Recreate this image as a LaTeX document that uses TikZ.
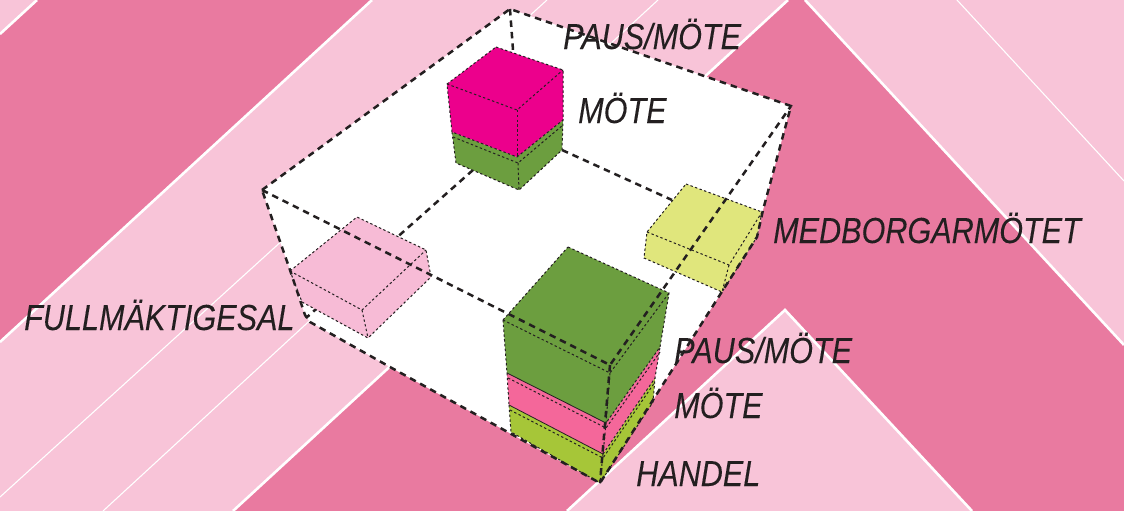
\documentclass[tikz,border=0pt]{standalone}
\usepackage{fontspec}
\setmainfont{Liberation Sans}
\newfontfamily\labelfont[ItalicFont=Liberation Sans Italic,ItalicFeatures={FakeStretch=0.845,FakeBold=0.05}]{Liberation Sans}
\definecolor{lightbg}{HTML}{F8C4D8}
\definecolor{darkbg}{HTML}{E97AA0}
\definecolor{inktext}{HTML}{231F20}
\definecolor{magentabox}{HTML}{EC008C}
\definecolor{greenbox}{HTML}{6C9E3F}
\definecolor{rosebox}{HTML}{F4679A}
\definecolor{limebox}{HTML}{A6C638}
\definecolor{yellowbox}{HTML}{E0E67C}
\definecolor{palebox}{HTML}{F7BBD6}
\tikzset{
  thickline/.style={draw=white,line width=2.6pt},
  thinline/.style={draw=white,line width=1.1pt},
  bigdash/.style={draw=inktext,line width=2.5pt,dash pattern=on 6.5pt off 5pt},
  finedash/.style={draw=inktext,line width=1pt,dash pattern=on 2.4pt off 2.4pt},
  tag/.style={inner sep=0pt,anchor=base west,text=inktext,font=\labelfont\itshape\fontsize{36.2}{36.2}\selectfont}
}
\begin{document}
\begin{tikzpicture}[x=1pt,y=-1pt]
\useasboundingbox (0,0) rectangle (1124,511);
\begin{scope}
\clip (0,0) rectangle (1124,511);
\fill[lightbg] (0,0) rectangle (1124,511);
% dark bands
\fill[darkbg] (37,0) -- (372,0) -- (0,342) -- (0,34) -- cycle;
\fill[darkbg] (233,511) -- (788,0) -- (805,0) -- (1124,345) -- (1124,511) -- (972,511) -- (785,310) -- (567,511) -- cycle;
% white strokes
\draw[thickline] (0,34) -- (37,0);
\draw[thickline] (372,0) -- (0,342);
\draw[thickline] (233,511) -- (788,0);
\draw[thickline] (805,0) -- (1124,345);
\draw[thickline] (567,511) -- (785,310) -- (972,511);
\draw[thinline] (547,0) -- (0,497);
\draw[thinline] (658,0) -- (103,511);
\draw[thinline] (957,0) -- (1124,181);
\end{scope}
% corners of the room
\coordinate (back) at (510,9);
\coordinate (right) at (791,106);
\coordinate (left) at (262,190);
\coordinate (front) at (610,365);
\coordinate (bottom) at (600,483);
% room
\fill[white] (left) -- (back) -- (right) -- (763,210) -- (757,237) -- (723,290) -- (653,400) -- (bottom) -- (390,367) -- (310,322) -- (305,315) -- (290,270) -- cycle;
% floor lines
\draw[bigdash] (back) -- (513,50);
\draw[bigdash] (562,150) -- (672,200);
\draw[bigdash] (473,170) -- (306,318);
% pale box
\path[fill=palebox] (290,271) -- (357,217) -- (426,250) -- (431,277) -- (368,338) -- (302,302) -- cycle;
\draw[finedash] (290,271) -- (357,217) -- (426,250) -- (431,277) -- (368,338) -- (302,302) -- cycle;
\draw[finedash] (290,271) -- (362,310) -- (426,250);
\draw[finedash] (362,310) -- (368,338);
% yellow box
\path[fill=yellowbox] (686,184) -- (762,212) -- (757,237) -- (722,292) -- (644,258) -- (647,232) -- cycle;
\draw[finedash] (686,184) -- (762,212) -- (757,237) -- (722,292) -- (644,258) -- (647,232) -- cycle;
\draw[finedash] (647,232) -- (729,265) -- (762,212);
\draw[finedash] (729,265) -- (722,292);
% back stack: green
\path[fill=greenbox] (452,132) -- (456,163) -- (519,190) -- (562,150) -- (563,120) -- (517,157) -- cycle;
\draw[finedash] (452,132) -- (456,163) -- (519,190) -- (562,150) -- (563,120);
\draw[finedash] (453,137) -- (518,163) -- (563,125);
\draw[finedash] (518,163) -- (519,190);
% back stack: magenta
\path[fill=magentabox] (496,47) -- (563,70) -- (563,120) -- (517,157) -- (452,132) -- (447,84) -- cycle;
\draw[finedash] (496,47) -- (563,70) -- (563,120) -- (517,157) -- (452,132) -- (447,84) -- cycle;
\draw[finedash] (447,84) -- (517,110) -- (563,70);
\draw[finedash] (517,110) -- (517,157);
% front stack: lime
\path[fill=limebox] (509,405) -- (511,432) -- (600,483) -- (653,402) -- (655,378) -- (603,454) -- cycle;
\draw[finedash] (509,405) -- (511,432) -- (600,483) -- (653,402) -- (655,378);
\draw[finedash] (510,410) -- (603,458) -- (655,382);
\draw[finedash] (603,454) -- (600,483);
% front stack: rose
\path[fill=rosebox] (507,373) -- (509,405) -- (603,454) -- (655,378) -- (660,347) -- (606,423) -- cycle;
\draw[finedash] (507,373) -- (509,405);
\draw[finedash] (603,454) -- (655,378) -- (660,347);
\draw[draw=inktext,line width=0.8pt] (509,405) -- (603,454);
\draw[finedash] (508,378) -- (606,428) -- (660,352);
\draw[finedash] (606,423) -- (603,454);
% front stack: green
\path[fill=greenbox] (568,247) -- (669,293) -- (660,347) -- (606,423) -- (507,373) -- (503,320) -- cycle;
\draw[finedash] (568,247) -- (669,293) -- (660,347) -- (606,423);
\draw[finedash] (503,320) -- (568,247);
\draw[finedash] (503,320) -- (507,373);
\draw[draw=inktext,line width=0.8pt] (507,373) -- (606,423);
\draw[finedash] (503,320) -- (610,373) -- (669,293);
\draw[finedash] (610,373) -- (606,423);
% room outline and front edges, over everything
\draw[bigdash] (left) -- (back) -- (right) -- (763,210) -- (757,237) -- (723,290) -- (653,400) -- (bottom) -- (390,367) -- (310,322) -- (305,315) -- (290,270) -- cycle;
\draw[bigdash] (left) -- (front) -- (right);
\draw[bigdash] (front) -- (bottom);
% labels
\node[tag] (t1) at (563,49) {PAUS/MÖTE};
\node[tag] (t2) at (578,123) {MÖTE};
\node[tag] (t3) at (773,243) {MEDBORGARMÖTET};
\node[tag] (t4) at (24,330) {FULLMÄKTIGESAL};
\node[tag] (t5) at (674,363) {PAUS/MÖTE};
\node[tag] (t6) at (674,418) {MÖTE};
\node[tag] (t7) at (636,486) {HANDEL};
\end{tikzpicture}
\end{document}
